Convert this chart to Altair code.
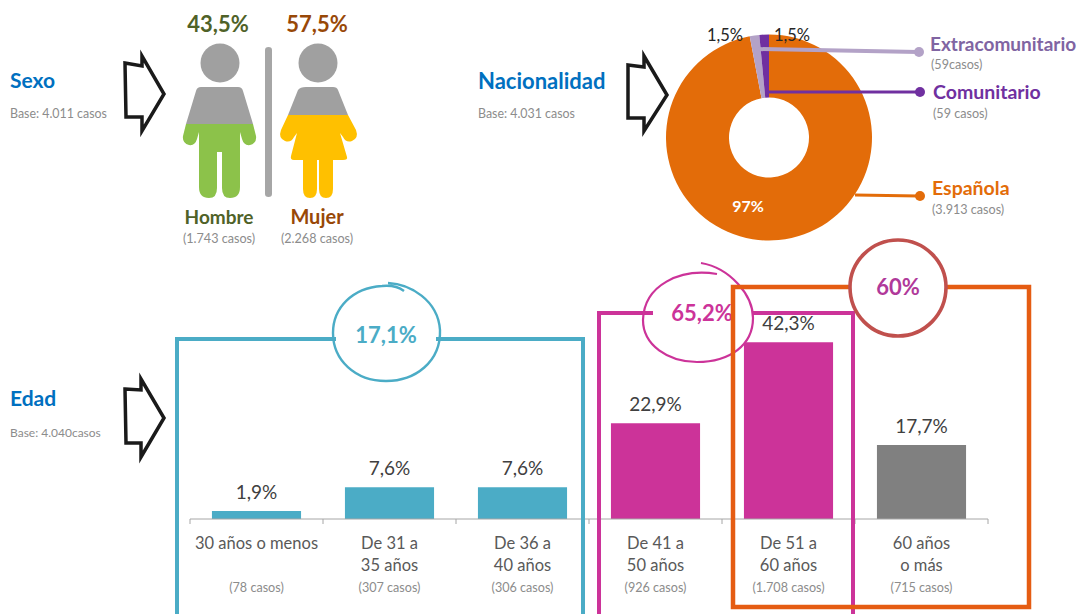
import altair as alt
import pandas as pd

FONT = "Lato"
OX, OY = 8, 8

# ---- data ----
edad_cat = ["30 años o menos", "De 31 a\n35 años", "De 36 a\n40 años", "De 41 a\n50 años", "De 51 a\n60 años", "60 años\no más"]
edad_val = [1.9, 7.6, 7.6, 22.9, 42.3, 17.7]
edad_txt = ["1,9%", "7,6%", "7,6%", "22,9%", "42,3%", "17,7%"]
edad_casos = ["(78 casos)", "(307 casos)", "(306 casos)", "(926 casos)", "(1.708 casos)", "(715  casos)"]
edad_grupo = ["joven", "joven", "joven", "medio", "medio", "mayor"]
edad_bordes = [0, 1, 2, 3, 4, 5, 6]

nac_cat = ["Española", "Extracomunitario", "Comunitario"]
nac_val = [97, 1.5, 1.5]
nac_orden = [1, 2, 3]

# ---- helpers ----
one = alt.Data(values=[{"a": 1}])


def label(s, x, y, size=12.6, color="#8c8c8c", bold=False, align="center"):
    return alt.Chart(one).mark_text(
        font=FONT, fontSize=size, color=color, align=align, baseline="middle",
        fontWeight="bold" if bold else "normal",
    ).encode(x=alt.value(x - OX), y=alt.value(y + 1 - OY), text=alt.value(s))


def fill_path(d, color):
    return alt.Chart(one).mark_point(
        shape=d, size=4, filled=True, fill=color, opacity=1, strokeWidth=0
    ).encode(x=alt.value(-OX), y=alt.value(-OY))


def line_path(d, color, w):
    return alt.Chart(one).mark_point(
        shape=d, size=4, filled=False, stroke=color, strokeWidth=w, opacity=1,
        strokeJoin="miter",
    ).encode(x=alt.value(-OX), y=alt.value(-OY))


def dot(x, y, r, color):
    return alt.Chart(one).mark_point(
        shape="circle", size=(2 * r) ** 2, filled=True, fill=color, opacity=1, strokeWidth=0
    ).encode(x=alt.value(x - OX), y=alt.value(y - OY))


BLUE = "#0070c0"
GRAY = "#8c8c8c"
TEAL = "#4bacc6"
MAG = "#cc3399"
ORG = "#e36c09"
PEOPLE = "#a0a0a0"

layers = []

# ---- titles ----
layers += [
    label("Sexo", 10, 81, 21, BLUE, True, "left"),
    label("Base: 4.011 casos", 10, 113, 12.4, GRAY, False, "left"),
    label("Nacionalidad", 478, 81, 22, BLUE, True, "left"),
    label("Base: 4.031 casos", 478, 113, 12.4, GRAY, False, "left"),
    label("Edad", 10, 399, 21, BLUE, True, "left"),
    label("Base: 4.040casos", 10, 432, 12, GRAY, False, "left"),
]

# ---- hand-drawn arrows ----
for d in [
    "M125 63 L142 66 L142 56 L164 94 L142 131 L142 117 L126 117 Z",
    "M628 65 L644 67 L644 56 L667 95 L644 131 L644 118 L628 118 Z",
    "M125 389 L141 390 L141 379 L164 418 L141 457 L141 443 L126 443 Z",
]:
    layers.append(line_path(d, "#1a1a1a", 3.5))

# ---- people ----
layers += [
    dot(220, 63, 19.5, PEOPLE),
    dot(318, 63, 19.5, PEOPLE),
    fill_path("M201 87 L238 87 Q242 87 243 91 L253 124 L186 124 L196 91 Q197 87 201 87 Z", PEOPLE),
    fill_path("M186 124 L253 124 L256 136 Q257 143 250 145 Q244 146 242 139 L240 132 L240 187 Q240 198 230 198 Q222 198 222 188 L222 152 L217 152 L217 188 Q217 198 209 198 Q199 198 199 187 L199 132 L197 139 Q195 146 189 145 Q182 143 183 136 Z", "#8cc24a"),
    fill_path("M306 87 L333 87 Q337 87 338 90 L348 115 L288 115 L298 90 Q300 87 306 87 Z", PEOPLE),
    fill_path("M288 115 L348 115 L356 130 Q359 138 352 141 Q346 143 343 137 L340 133 L347 157 Q348 160 343 160 L333 160 L333 189 Q333 198 326 198 Q319 198 319 189 L319 160 L317 160 L317 189 Q317 198 310 198 Q303 198 303 189 L303 160 L294 160 Q290 160 291 156 L297 133 L294 137 Q291 143 285 141 Q278 138 281 130 Z", "#ffc000"),
    fill_path("M265 50 Q265 47 268.5 47 Q272 47 272 50 L272 194 Q272 197 268.5 197 Q265 197 265 194 Z", "#a6a6a6"),
    label("43,5%", 218, 24, 22, "#4f6228", True),
    label("57,5%", 317, 24, 22, "#984807", True),
    label("Hombre", 219, 217, 19, "#4f6228", True),
    label("Mujer", 317, 217, 20, "#984807", True),
    label("(1.743 casos)", 219, 238),
    label("(2.268 casos)", 317, 238),
]

# ---- doughnut ----
nac = pd.DataFrame({"nac": nac_cat, "valor": nac_val, "orden": nac_orden})
pie = alt.Chart(nac).mark_arc(outerRadius=103, innerRadius=40).encode(
    x=alt.value(769 - OX),
    y=alt.value(137.5 - OY),
    theta=alt.Theta("valor:Q", stack=True),
    order=alt.Order("orden:Q"),
    color=alt.Color("nac:N", legend=None,
                    scale=alt.Scale(domain=nac_cat, range=[ORG, "#b3a2c7", "#7030a0"])),
)
layers.append(pie)
layers += [
    line_path("M757 49 L918 52", "#b3a2c7", 4),
    dot(919, 52, 5, "#b3a2c7"),
    line_path("M769 92 L919 92", "#7030a0", 3),
    dot(920, 92, 5, "#7030a0"),
    line_path("M855 195 L919 196", ORG, 3),
    dot(920, 196, 5, ORG),
    label("1,5%", 725, 35, 16.5, "#262626"),
    label("1,5%", 792, 35, 16.5, "#262626"),
    label("97%", 748, 206, 16, "white", True),
    label("Extracomunitario", 930, 44, 19, "#8064a2", True, "left"),
    label("(59casos)", 931, 64, 12.6, GRAY, False, "left"),
    label("Comunitario", 933, 92, 19.5, "#7030a0", True, "left"),
    label("(59 casos)", 933, 113, 12.6, GRAY, False, "left"),
    label("Española", 932, 188, 19.5, ORG, True, "left"),
    label("(3.913 casos)", 932, 209, 12.6, GRAY, False, "left"),
]

# ---- age bars ----
edad = pd.DataFrame({
    "cat": edad_cat, "valor": edad_val, "txt": edad_txt,
    "casos": edad_casos, "grupo": edad_grupo,
})
xs = alt.Scale(domain=edad_cat, range=[190 - OX, 988 - OX], paddingInner=0.33, paddingOuter=0.165)
ys = alt.Scale(domain=[0, 50], range=[519 - OY, 519 - OY - 209])
xcat = alt.X("cat:N", sort=None, scale=xs, axis=None)
bars = alt.Chart(edad).mark_bar().encode(
    x=xcat,
    y=alt.Y("valor:Q", scale=ys, axis=None),
    color=alt.Color("grupo:N", legend=None,
                    scale=alt.Scale(domain=["joven", "medio", "mayor"], range=[TEAL, MAG, "#808080"])),
)
bar_txt = alt.Chart(edad).mark_text(font=FONT, fontSize=19, color="#404040", dy=-18, baseline="middle").encode(
    x=xcat,
    y=alt.Y("valor:Q", scale=ys, axis=None),
    text="txt:N",
)
cat_txt = alt.Chart(edad).mark_text(
    font=FONT, fontSize=16.5, color="#595959", baseline="top", lineBreak="\n", lineHeight=22
).encode(
    x=xcat,
    y=alt.value(535.5 - OY),
    text="cat:N",
)
cas_txt = alt.Chart(edad).mark_text(font=FONT, fontSize=12.6, color=GRAY, baseline="middle").encode(
    x=xcat,
    y=alt.value(588 - OY),
    text="casos:N",
)
layers.append(alt.layer(bars, bar_txt, cat_txt, cas_txt))

# axis line and ticks at the band edges
bordes = pd.DataFrame({"borde": edad_bordes})
edge_x = alt.X("borde:Q", axis=None,
               scale=alt.Scale(domain=[0, 6], range=[190 - OX, 988 - OX], nice=False, zero=False))
layers.append(alt.layer(
    alt.Chart(bordes).mark_rule(color="#a6a6a6", strokeWidth=1).encode(
        x=edge_x, y=alt.value(519 - OY), y2=alt.value(524 - OY)),
    alt.Chart(one).mark_rule(color="#a6a6a6", strokeWidth=1).encode(
        x=alt.value(190 - OX), x2=alt.value(988 - OX), y=alt.value(519 - OY)),
))

# ---- brackets and hand-drawn circles ----
layers += [
    line_path("M336 339 L177 339 L177 630 M436 339 L583 339 L583 630", TEAL, 4),
    line_path("M388 283 C 410 284 438 300 440 330 C 441 362 415 381 386 381 C 355 381 333 360 333 333 C 333 308 352 288 382 286 C 392 285 400 288 404 291", TEAL, 2.4),
    line_path("M653 313 L599 313 L599 630 M752 313 L853 313 L853 630", MAG, 4),
    line_path("M717 274 C 680 268 644 285 643 320 C 643 345 668 362 697 362 C 730 362 753 345 753 318 C 753 295 730 268 701 263", MAG, 2.2),
    label("65,2%", 702, 313, 22, MAG, True),
    line_path("M850 287 L733 287 L733 607 L1029 607 L1029 287 L946 287", "#e55c12", 4.5),
    line_path("M898 240 C 925 240 946 262 946 287 C 946 314 925 336 898 336 C 871 336 850 314 850 287 C 850 262 871 240 898 240 Z", "#c0504d", 3.6),
    label("60%", 898, 287, 22, "#b0399a", True),
    label("17,1%", 386, 335, 22, TEAL, True),
]

chart = alt.layer(*layers).resolve_scale(
    x="independent", y="independent", color="independent", theta="independent"
).properties(
    width=1071, height=606, padding=0, autosize="none", background="white"
).configure_view(stroke=None)

chart.save("out.html", embed_options={"renderer": "svg", "actions": False})
